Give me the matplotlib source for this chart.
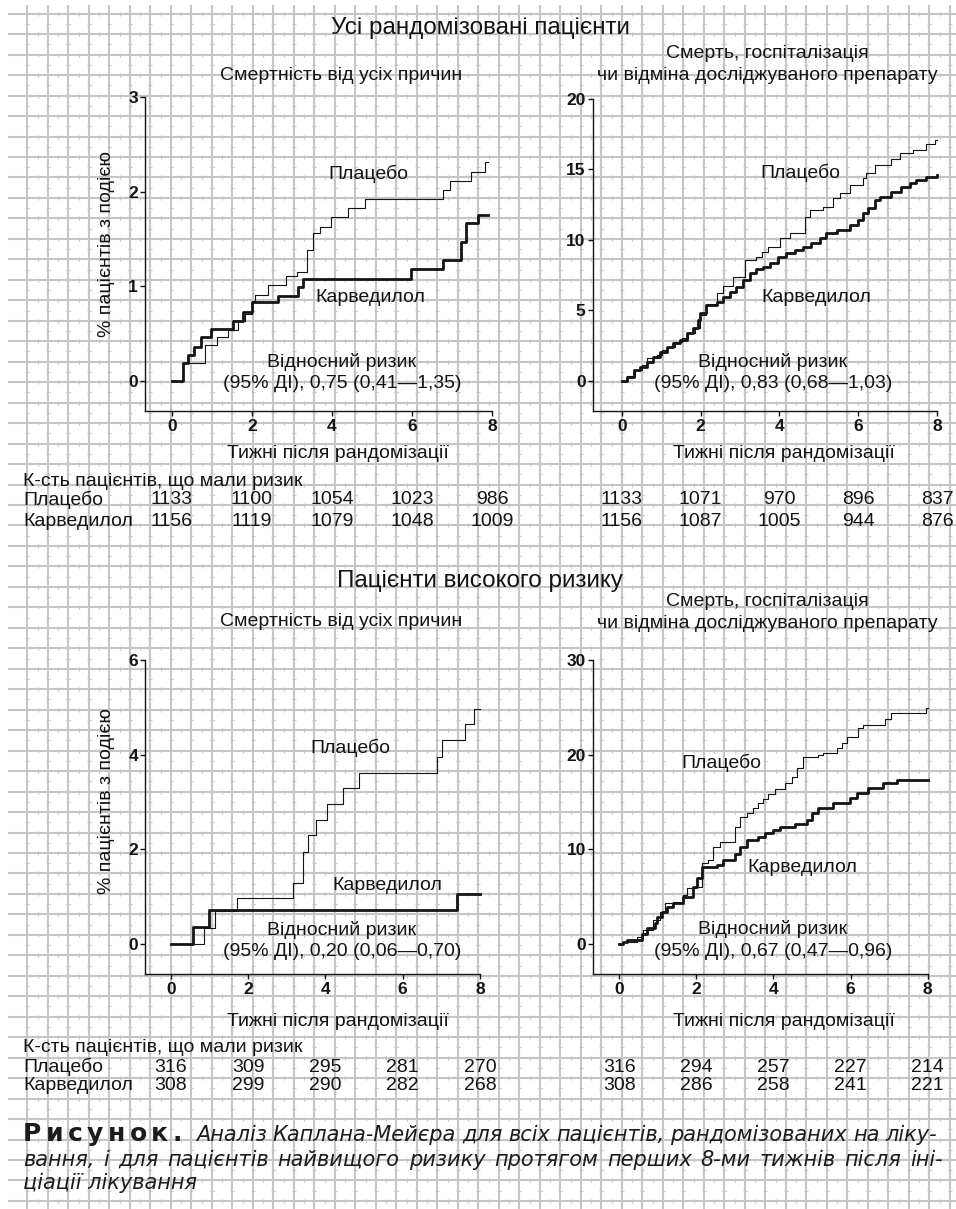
import matplotlib
matplotlib.use("Agg")
import matplotlib.pyplot as plt
from matplotlib.collections import LineCollection
from matplotlib.transforms import blended_transform_factory
import numpy as np

plt.rcParams['font.family'] = ['Liberation Sans', 'DejaVu Sans']

W, H = 956, 1209
INK = '#141414'
GRID = '#c6c6c6'

# ---------------- data ----------------
week_ticks = [0, 2, 4, 6, 8]

# all randomised patients, all-cause mortality (% with event)
all_mort_pl_wk = [0, 0.28, 0.83, 1.12, 1.39, 1.66, 1.83, 2.0, 2.08, 2.41, 2.85, 3.12,
                  3.37, 3.53, 3.70, 3.98, 4.41, 4.83, 6.78, 6.95, 7.47, 7.83, 7.9]
all_mort_pl_pct = [0, 0.19, 0.38, 0.46, 0.54, 0.63, 0.71, 0.84, 0.91, 1.01, 1.11, 1.15,
                   1.38, 1.56, 1.63, 1.73, 1.83, 1.92, 2.02, 2.11, 2.21, 2.31, 2.31]
all_mort_cv_wk = [0, 0.28, 0.41, 0.56, 0.72, 0.97, 1.53, 1.78, 1.99, 2.66, 3.14, 3.28,
                  5.97, 6.78, 7.22, 7.35, 7.66, 7.9]
all_mort_cv_pct = [0, 0.19, 0.27, 0.36, 0.46, 0.55, 0.63, 0.73, 0.83, 0.90, 0.99, 1.08,
                   1.18, 1.28, 1.47, 1.67, 1.75, 1.75]

# all randomised patients, death / hospitalisation / withdrawal
all_comb_pl_wk = [0, 0.13, 0.34, 0.51, 0.63, 0.89, 1.01, 1.14, 1.35, 1.52, 1.69, 1.86,
                  1.98, 2.15, 2.41, 2.58, 2.83, 3.13, 3.42, 3.55, 3.72, 4.01, 4.27,
                  4.65, 4.77, 5.11, 5.36, 5.53, 5.79, 6.12, 6.21, 6.42, 6.84, 7.05,
                  7.39, 7.73, 7.94, 8.0]
all_comb_pl_pct = [0, 0.35, 0.78, 1.13, 1.61, 1.84, 2.2, 2.43, 2.79, 3.02, 3.38, 3.73,
                   4.68, 5.45, 6.21, 6.73, 7.39, 8.57, 8.81, 9.16, 9.52, 10.11, 10.46,
                   11.64, 12.11, 12.35, 12.94, 13.34, 13.88, 14.36, 14.71, 15.30, 15.70,
                   16.13, 16.36, 16.79, 17.07, 17.07]
all_comb_cv_wk = [0, 0.13, 0.30, 0.46, 0.63, 0.80, 0.97, 1.14, 1.31, 1.48, 1.65, 1.82,
                  1.94, 1.98, 2.15, 2.41, 2.58, 2.74, 2.91, 3.08, 3.25, 3.42, 3.59,
                  3.76, 3.97, 4.18, 4.39, 4.60, 4.81, 5.03, 5.19, 5.45, 5.79, 6.00,
                  6.12, 6.25, 6.42, 6.55, 6.84, 7.09, 7.31, 7.47, 7.73, 8.0]
all_comb_cv_pct = [0, 0.31, 0.78, 1.02, 1.37, 1.72, 2.08, 2.43, 2.67, 2.90, 3.38, 3.73,
                   4.32, 4.79, 5.38, 5.62, 5.97, 6.33, 6.68, 7.15, 7.63, 7.91, 8.10,
                   8.34, 8.81, 9.04, 9.28, 9.52, 9.75, 10.11, 10.46, 10.70, 11.05, 11.40,
                   11.88, 12.23, 12.82, 13.06, 13.41, 13.77, 14.00, 14.24, 14.47, 14.59]

# high-risk patients, all-cause mortality
hr_mort_pl_wk = [0, 0.86, 1.15, 1.72, 3.17, 3.43, 3.56, 3.76, 4.03, 4.45, 4.88, 6.88,
                 7.03, 7.61, 7.84, 8.0]
hr_mort_pl_pct = [0, 0.33, 0.70, 0.98, 1.28, 1.95, 2.30, 2.61, 2.95, 3.29, 3.62, 3.96,
                  4.30, 4.64, 4.96, 4.96]
hr_mort_cv_wk = [0, 0.57, 0.99, 7.41, 8.0]
hr_mort_cv_pct = [0, 0.35, 0.72, 1.05, 1.05]

# high-risk patients, death / hospitalisation / withdrawal
hr_comb_pl_wk = [0, 0.10, 0.45, 0.62, 0.88, 1.06, 1.19, 1.40, 1.66, 1.75, 1.96, 2.14,
                 2.31, 2.44, 2.61, 3.00, 3.13, 3.30, 3.48, 3.61, 3.74, 3.87, 4.04,
                 4.30, 4.47, 4.60, 4.76, 5.16, 5.29, 5.64, 5.77, 5.90, 6.20, 6.33,
                 6.89, 7.04, 7.95, 8.0]
hr_comb_pl_pct = [0, 0.25, 0.77, 1.48, 2.54, 3.42, 4.37, 4.47, 5.18, 5.88, 6.06, 8.52,
                  8.87, 10.28, 10.81, 12.39, 13.45, 13.80, 14.33, 14.93, 15.32, 15.85,
                  16.34, 16.97, 17.61, 18.56, 19.72, 19.96, 20.21, 20.67, 21.27, 21.90,
                  22.78, 23.13, 23.73, 24.37, 24.89, 24.89]
hr_comb_cv_wk = [0, 0.10, 0.19, 0.58, 0.71, 0.93, 0.97, 1.10, 1.23, 1.40, 1.66, 1.92,
                 2.01, 2.14, 2.53, 2.70, 3.00, 3.13, 3.30, 3.61, 3.78, 4.00, 4.17,
                 4.56, 4.86, 4.99, 5.16, 5.55, 5.99, 6.16, 6.46, 6.85, 7.20, 8.0]
hr_comb_cv_pct = [0, 0.25, 0.42, 1.06, 1.65, 2.18, 2.89, 3.42, 3.94, 4.30, 5.00, 6.06,
                  6.94, 8.17, 8.35, 8.87, 9.51, 10.28, 10.99, 11.34, 11.76, 12.04, 12.39,
                  12.68, 13.10, 13.80, 14.33, 14.86, 15.39, 15.92, 16.51, 17.04, 17.32,
                  17.32]

# numbers at risk at weeks 0, 2, 4, 6, 8
all_mort_risk_pl = [1133, 1100, 1054, 1023, 986]
all_mort_risk_cv = [1156, 1119, 1079, 1048, 1009]
all_comb_risk_pl = [1133, 1071, 970, 896, 837]
all_comb_risk_cv = [1156, 1087, 1005, 944, 876]
hr_mort_risk_pl = [316, 309, 295, 281, 270]
hr_mort_risk_cv = [308, 299, 290, 282, 268]
hr_comb_risk_pl = [316, 294, 257, 227, 214]
hr_comb_risk_cv = [308, 286, 258, 241, 221]

hazard_texts = ['0,75 (0,41—1,35)', '0,83 (0,68—1,03)', '0,20 (0,06—0,70)', '0,67 (0,47—0,96)']

# ---------------- figure + graph paper background ----------------
fig = plt.figure(figsize=(W / 100, H / 100), dpi=100)
bg = fig.add_axes([0, 0, 1, 1])
bg.set_xlim(0, W)
bg.set_ylim(H, 0)
bg.axis('off')

gx = 27.3 + 20.5 * np.arange(46)
gy = 13.7 + 20.47 * np.arange(59)
segs = [[(x, 5), (x, H)] for x in gx] + [[(8, y), (W, y)] for y in gy]
bg.add_collection(LineCollection(segs, colors=GRID, linewidths=1.5, zorder=0))
marks = [[(x, y - 2), (x, y + 2)] for x in gx[:-1] + 10.25 for y in gy]
marks += [[(x - 2, y), (x + 2, y)] for x in gx for y in gy[:-1] + 10.23]
bg.add_collection(LineCollection(marks, colors=GRID, linewidths=0.8, zorder=0))


def txt(x, y, s, size=14, ha='center', **kw):
    return bg.text(x, y, s, fontsize=size, ha=ha, va='center', color=INK, **kw)


def draw_panel(rect, xlim, ylim, yticks, pl_wk, pl_pct, cv_wk, cv_pct):
    l, r, t, b = rect
    ax = fig.add_axes([l / W, 1 - b / H, (r - l) / W, (b - t) / H])
    ax.patch.set_alpha(0)
    ax.step(pl_wk, pl_pct, where='post', color=INK, lw=0.8, clip_on=False)
    ax.step(cv_wk, cv_pct, where='post', color=INK, lw=2.0, clip_on=False)
    ax.set_xlim(*xlim)
    ax.set_ylim(*ylim)
    ax.set_xticks(week_ticks)
    ax.set_yticks(yticks)
    for s in ('top', 'right'):
        ax.spines[s].set_visible(False)
    for s in ('left', 'bottom'):
        ax.spines[s].set_linewidth(1.0)
        ax.spines[s].set_color(INK)
    ax.tick_params(direction='out', length=3.6, width=1.0, colors=INK, labelsize=12.5)
    ax.tick_params(axis='y', pad=1.5)
    ax.tick_params(axis='x', pad=2.5)
    plt.setp(ax.get_xticklabels() + ax.get_yticklabels(), fontweight='bold')
    return ax


ax_tl = draw_panel((145, 492, 97, 411), (-0.675, 8), (-0.317, 3), [0, 1, 2, 3],
                   all_mort_pl_wk, all_mort_pl_pct, all_mort_cv_wk, all_mort_cv_pct)
ax_tr = draw_panel((592.7, 937, 98.7, 411), (-0.736, 8), (-2.125, 20), [0, 5, 10, 15, 20],
                   all_comb_pl_wk, all_comb_pl_pct, all_comb_cv_wk, all_comb_cv_pct)
ax_bl = draw_panel((145, 480, 660, 974), (-0.665, 8), (-0.634, 6), [0, 2, 4, 6],
                   hr_mort_pl_wk, hr_mort_pl_pct, hr_mort_cv_wk, hr_mort_cv_pct)
ax_br = draw_panel((593.3, 927.7, 660, 974), (-0.674, 8), (-3.17, 30), [0, 10, 20, 30],
                   hr_comb_pl_wk, hr_comb_pl_pct, hr_comb_cv_wk, hr_comb_cv_pct)

# ---------------- titles and labels ----------------
txt(480, 28, 'Усі рандомізовані пацієнти', size=17.5)
txt(480, 581, 'Пацієнти високого ризику', size=17.5)

for y in (75, 622):
    txt(341, y, 'Смертність від усіх причин')
for y1, y2 in ((54, 76), (602, 623)):
    txt(767, y1, 'Смерть, госпіталізація')
    txt(767, y2, 'чи відміна досліджуваного препарату')

for y in (244, 801):
    txt(107, y, '% пацієнтів з подією', rotation=90)

for y in (453, 1022):
    txt(338, y, 'Тижні після рандомізації')
    txt(784, y, 'Тижні після рандомізації')

# in-plot curve labels and hazard ratios
curve_labels = [((368, 174), (370, 298), (342, 362)),
                ((800, 173), (816, 298), (773, 362)),
                ((350, 748), (387, 885), (342, 930)),
                ((721, 763), (802, 868), (773, 929))]
for (pl_xy, cv_xy, hr_xy), hr in zip(curve_labels, hazard_texts):
    txt(*pl_xy, 'Плацебо')
    txt(*cv_xy, 'Карведилол')
    txt(*hr_xy, 'Відносний ризик')
    txt(hr_xy[0], hr_xy[1] + 22, '(95% ДІ), ' + hr)

# ---------------- numbers at risk ----------------
risk_rows = [(481, 500, 521, [(ax_tl, all_mort_risk_pl, all_mort_risk_cv),
                              (ax_tr, all_comb_risk_pl, all_comb_risk_cv)]),
             (1047, 1067, 1086, [(ax_bl, hr_mort_risk_pl, hr_mort_risk_cv),
                                 (ax_br, hr_comb_risk_pl, hr_comb_risk_cv)])]
for y_head, y_pl, y_cv, panels in risk_rows:
    txt(23, y_head, 'К-сть пацієнтів, що мали ризик', ha='left')
    txt(23, y_pl, 'Плацебо', ha='left')
    txt(23, y_cv, 'Карведилол', ha='left')
    for ax, pl, cv in panels:
        tr = blended_transform_factory(ax.transData, bg.transData)
        for wk, n_pl, n_cv in zip(week_ticks, pl, cv):
            bg.text(wk, y_pl, str(n_pl), transform=tr, fontsize=14, ha='center',
                    va='center', color=INK)
            bg.text(wk, y_cv, str(n_cv), transform=tr, fontsize=14, ha='center',
                    va='center', color=INK)

# ---------------- caption (justified like the print) ----------------
renderer = fig.canvas.get_renderer()
cap_kw = dict(family='DejaVu Sans', color='#1c1c1c', va='center', ha='left')


def spread(pieces, x0, x1, y, **kw):
    items = [bg.text(0, y, p, **cap_kw, **kw) for p in pieces]
    widths = [it.get_window_extent(renderer).width for it in items]
    gap = (x1 - x0 - sum(widths)) / (len(items) - 1)
    x = x0
    for it, w in zip(items, widths):
        it.set_x(x)
        x += w + gap


spread(list('Рисунок.'), 23, 182, 1134, fontsize=18, fontweight='bold')
spread('Аналіз Каплана-Мейєра для всіх пацієнтів, рандомізованих на ліку-'.split(),
       196, 937, 1135, fontsize=15, style='italic')
spread('вання, і для пацієнтів найвищого ризику протягом перших 8-ми тижнів після іні-'.split(),
       23, 943, 1160, fontsize=15, style='italic')
bg.text(23, 1183, 'ціації лікування', fontsize=15, style='italic', **cap_kw)

fig.savefig('out.png', dpi=100)
